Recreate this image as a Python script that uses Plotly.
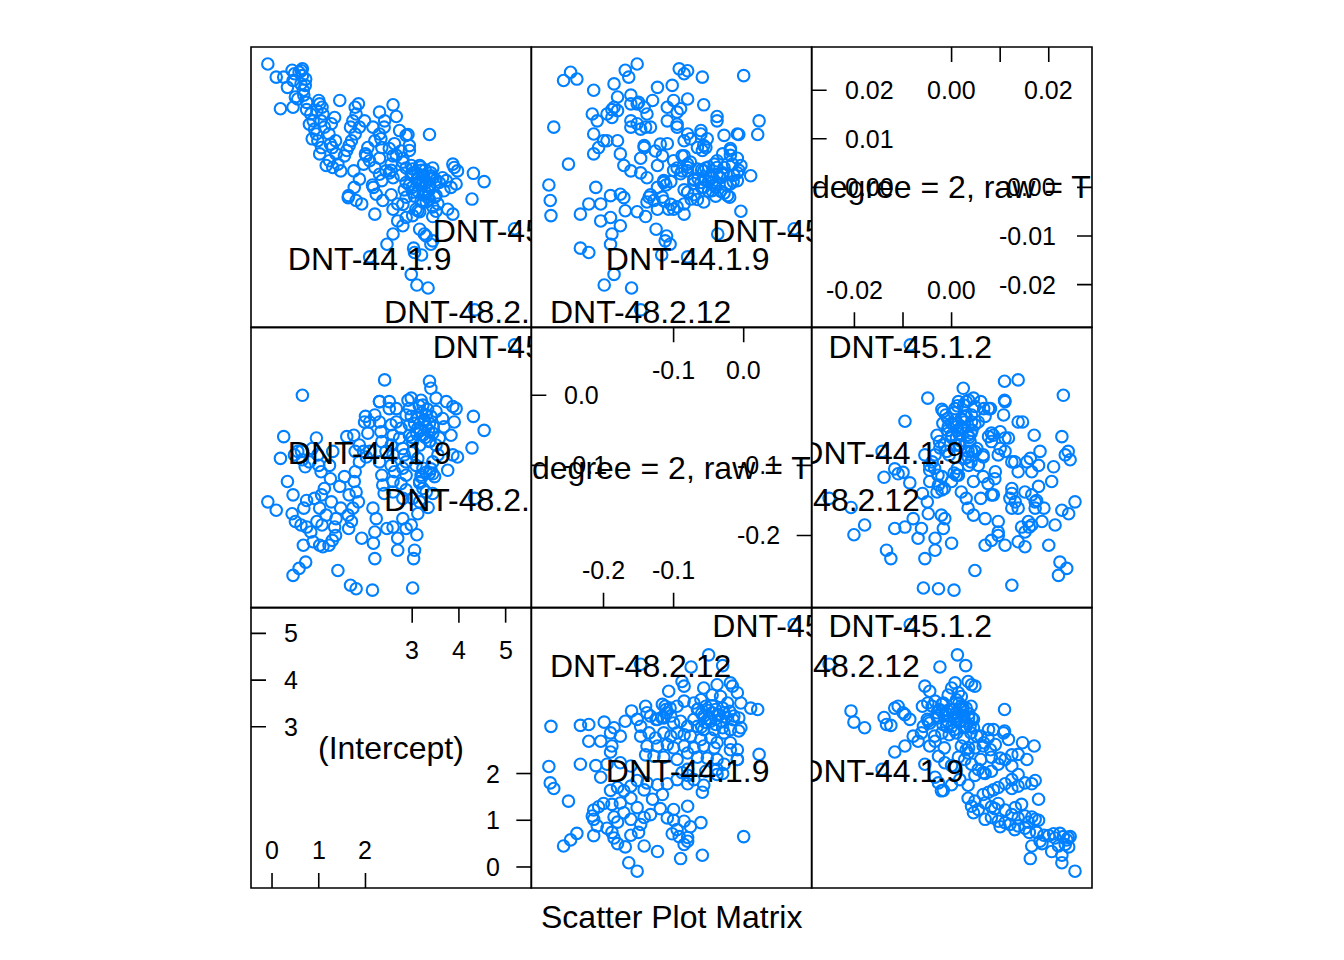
import plotly.graph_objects as go
from plotly.subplots import make_subplots

# per-subject coefficient estimates read off the splom
# (groups: low intercept, 0.75-1.5, 1.5-2.5, left branch, top, dense core, extra core)
intercept = [
    -0.09, 0.09, 0.18, 0.25, 0.33, 0.43, 0.45, 0.45, 0.48, 0.50, 0.58, 0.55, 0.62, 0.65, 0.65, 0.72, 0.67, 0.68, 0.74, 0.71, 0.63,
    1.47, 1.45, 1.41, 1.37, 1.36, 1.34, 1.30, 1.29, 1.27, 1.25, 1.23, 1.22, 1.16, 1.12, 1.09, 1.07, 1.06, 1.05, 1.02, 1.02,
    1.00, 0.98, 0.96, 0.95, 0.91, 0.88, 0.86, 0.83, 0.80, 0.74,
    2.15, 1.80, 1.68, 2.20, 2.17, 1.92, 2.20, 1.64, 2.46, 1.70, 2.23, 1.63, 2.16, 1.73, 1.85, 1.65, 2.40, 1.80, 2.37, 1.76,
    1.55, 2.35, 1.78, 1.87, 2.30, 2.02, 1.78, 1.96, 2.44, 1.87, 2.35, 1.60, 1.75, 2.05, 2.33, 1.98, 2.09, 2.30, 2.00, 2.20,
    2.30, 2.30, 2.41,
    3.34, 3.10, 3.05, 3.03, 2.98, 3.01, 3.40, 3.44, 3.30, 3.20, 3.26, 3.16, 2.80, 2.69, 2.59, 2.87, 2.69, 3.12,
    3.97, 3.94, 3.90, 3.87, 3.87, 3.83, 3.76, 3.73, 3.68, 3.65, 4.54, 4.31, 4.28,
    3.55, 3.58, 3.51, 3.51, 3.40, 3.37, 3.44, 3.30, 3.48, 3.37, 3.44, 3.51, 3.37, 3.44, 3.37, 3.30, 3.23, 3.19, 3.16, 3.23,
    3.12, 3.12, 2.94, 2.91, 2.98, 3.16, 3.01, 3.23, 3.16, 3.19, 3.23, 3.08, 3.12, 3.01, 3.01, 2.94, 2.94, 2.87, 2.80, 2.87,
    2.76, 2.87, 2.80, 2.87, 2.83, 2.80, 2.73, 2.76, 2.66, 2.66, 2.59, 2.59, 2.62, 2.55, 2.59, 2.55, 2.59, 2.55, 2.51, 2.51,
    3.30, 3.25, 3.35, 3.20, 3.40, 3.10, 3.05, 3.28, 3.15, 3.45, 2.98, 3.33, 3.18, 3.00, 3.38,
]
linear = [
    -0.152, -0.164, -0.090, -0.059, -0.123, -0.169, -0.257, -0.142, -0.085, -0.180, -0.247, -0.080, -0.185, 0.000, -0.092,
    -0.238, -0.214, -0.161, -0.150, -0.102, -0.080,
    -0.161, -0.130, -0.250, -0.176, -0.200, -0.188, -0.080, -0.207, -0.152, -0.119, -0.100, -0.214, -0.171, -0.133, -0.216,
    -0.185, -0.142, -0.109, -0.214, -0.161, -0.100, -0.085, -0.180, -0.061, -0.147, -0.209, -0.076, -0.195, -0.095, -0.188,
    -0.278, -0.276, -0.271, -0.233, -0.211, -0.204, -0.195, -0.190, -0.190, -0.180, -0.176, -0.171, -0.161, -0.161, -0.152,
    -0.142, -0.140, -0.138, -0.128, -0.123, -0.116, -0.114, -0.109, -0.095, -0.095, -0.088, -0.080, -0.080, -0.080, -0.071,
    -0.066, -0.059, -0.057, -0.054, -0.052, -0.038, -0.038, -0.038, -0.030, -0.028, -0.009, -0.009, 0.022,
    -0.160, -0.199, -0.221, -0.233, -0.185, -0.275, -0.105, -0.112, -0.110, -0.117, -0.037, -0.125, -0.176, -0.204, -0.188,
    -0.190, -0.221, -0.169,
    -0.088, -0.019, -0.038, -0.085, -0.016, -0.057, -0.107, -0.009, -0.045, -0.033, -0.050, -0.030, -0.075,
    -0.085, -0.061, -0.023, -0.004, 0.010, 0.020, -0.140, -0.138, -0.116, -0.111, -0.095, -0.071, -0.066, -0.054, -0.040,
    -0.028, -0.014, -0.007, -0.071, -0.057, -0.047, -0.033, -0.019, -0.007, -0.004, -0.152, -0.147, -0.133, -0.123, -0.114,
    -0.104, -0.100, -0.090, -0.080, -0.066, -0.057, -0.042, -0.028, -0.147, -0.135, -0.126, -0.114, -0.104, -0.095, -0.085,
    -0.076, -0.061, -0.047, -0.038, -0.019, -0.138, -0.123, -0.109, -0.100, -0.085, -0.071, -0.057, -0.042, -0.019, -0.009,
    -0.045, -0.035, -0.050, -0.025, -0.030, -0.055, -0.040, -0.060, -0.015, -0.045, -0.030, -0.020, -0.050, -0.060, -0.065,
]
quadratic = [
    0.0254, 0.0227, 0.0162, 0.0227, 0.0206, 0.0241, 0.0220, 0.0165, 0.0234, 0.0186, 0.0237, 0.0182, 0.0213, 0.0230, 0.0244,
    0.0223, 0.0200, 0.0190, 0.0175, 0.0210, 0.0240,
    0.0034, 0.0179, 0.0048, 0.0069, 0.0096, 0.0144, 0.0041, 0.0082, 0.0131, 0.0089, 0.0055, 0.0110, 0.0045, 0.0124, 0.0151,
    0.0165, 0.0082, 0.0137, 0.0069, 0.0172, 0.0179, 0.0096, 0.0158, 0.0110, 0.0120, 0.0137, 0.0100, 0.0151, 0.0130, 0.0160,
    0.0005, -0.0027, 0.0124, -0.0055, 0.0000, -0.0034, 0.0096, -0.0017, -0.0117, 0.0096, -0.0014, -0.0021, 0.0124, 0.0137,
    0.0172, 0.0086, 0.0124, 0.0151, -0.0027, 0.0000, 0.0065, 0.0014, 0.0165, 0.0124, 0.0155, 0.0065, 0.0110, 0.0048, 0.0034,
    0.0017, 0.0082, 0.0076, 0.0034, 0.0082, 0.0100, 0.0137, 0.0055, 0.0027, 0.0069, 0.0041, 0.0110, 0.0060, 0.0137,
    -0.0207, -0.0201, -0.0134, -0.0125, -0.0179, -0.0058, -0.0117, -0.0110, -0.0100, -0.0139, -0.0096, -0.0086, -0.0079,
    -0.0069, -0.0096, -0.0062, -0.0034, -0.0048,
    0.0034, 0.0007, 0.0041, -0.0055, 0.0048, 0.0000, -0.0045, 0.0014, -0.0007, 0.0020, 0.0012, 0.0029, -0.0024,
    -0.0034, 0.0010, -0.0017, -0.0049, 0.0024, 0.0109, -0.0060, -0.0030, -0.0020, 0.0005, -0.0040, 0.0015, -0.0025, 0.0040,
    0.0000, -0.0012, 0.0025, 0.0035, 0.0008, -0.0030, 0.0020, -0.0008, 0.0076, 0.0109, 0.0045, -0.0050, 0.0030, -0.0015,
    0.0045, -0.0028, 0.0012, -0.0045, 0.0028, -0.0010, 0.0038, 0.0086, 0.0005, 0.0107, 0.0060, -0.0020, 0.0075, 0.0010,
    -0.0035, 0.0040, -0.0005, 0.0052, 0.0117, 0.0025, 0.0146, 0.0066, 0.0020, -0.0045, 0.0090, 0.0035, 0.0065, -0.0015,
    0.0170, 0.0048, 0.0080, 0.0030,
    0.0010, 0.0022, -0.0008, 0.0005, 0.0030, 0.0015, -0.0018, 0.0036, 0.0012, 0.0020, 0.0026, -0.0020, 0.0042, 0.0000, 0.0018,
]

# the three labelled subjects
label_names = ["DNT-44.1.9", "DNT-45.1.2", "DNT-48.2.12"]
label_intercept = [2.09, 5.19, 4.34]
label_linear = [-0.080, 0.072, -0.147]
label_quadratic = [-0.0143, -0.0085, -0.0252]

var_names = ["(Intercept)", "degree = 2, raw = T", "degree = 2, raw = T"]
var_ranges = [[-0.45, 5.55], [-0.303, 0.097], [-0.0288, 0.0289]]

# diagonal axis ticks, split over the four sides like lattice does (value list, label list)
diag_ticks = [
    {"left": ([3, 4, 5], ["3", "4", "5"]), "right": ([0, 1, 2], ["0", "1", "2"]),
     "bottom": ([0, 1, 2], ["0", "1", "2"]), "top": ([3, 4, 5], ["3", "4", "5"])},
    {"left": ([0.0, -0.1], ["0.0", "-0.1"]), "right": ([-0.1, -0.2], ["-0.1", "-0.2"]),
     "bottom": ([-0.2, -0.1], ["-0.2", "-0.1"]), "top": ([-0.1, 0.0], ["-0.1", "0.0"])},
    {"left": ([0.02, 0.01, 0.0], ["0.02", "0.01", "0.00"]), "right": ([0.0, -0.01, -0.02], ["0.00", "-0.01", "-0.02"]),
     "bottom": ([-0.02, -0.01, 0.0], ["-0.02", "", "0.00"]), "top": ([0.0, 0.01, 0.02], ["0.00", "", "0.02"])},
]
right_pos = [0.8955, 0.893, 0.88]

FONT = "Liberation Sans, Arial, Helvetica, sans-serif"
BLUE = "#0080ff"
TICK = 0.0535
PANEL_PX = 280.3
LABEL_DROP_PX = 5  # R centres the label glyphs a little lower than plotly does
EDGE = dict(color="black", width=1.6)

cols = [intercept, linear, quadratic]
lab_cols = [label_intercept, label_linear, label_quadratic]

fig = make_subplots(rows=3, cols=3, horizontal_spacing=0, vertical_spacing=0)


def axis_names(r, c):
    k = (r - 1) * 3 + c
    return ("x", "y") if k == 1 else (f"x{k}", f"y{k}")


for r in range(1, 4):
    for c in range(1, 4):
        xv, yv = c - 1, 3 - r
        xa, ya = axis_names(r, c)
        fig.update_xaxes(range=var_ranges[xv], row=r, col=c)
        fig.update_yaxes(range=var_ranges[yv], row=r, col=c)
        # panel frame
        fig.add_shape(type="rect", xref=f"{xa} domain", yref=f"{ya} domain", x0=0, x1=1, y0=0, y1=1, line=EDGE)
        if xv == yv:
            continue
        fig.add_trace(go.Scatter(x=cols[xv] + lab_cols[xv], y=cols[yv] + lab_cols[yv], mode="markers",
                                 marker=dict(symbol="circle-open", size=11.5, color=BLUE, line=dict(width=2.1)),
                                 showlegend=False, hoverinfo="skip"), row=r, col=c)
        drop = LABEL_DROP_PX * (var_ranges[yv][1] - var_ranges[yv][0]) / PANEL_PX
        fig.add_trace(go.Scatter(x=lab_cols[xv], y=[val - drop for val in lab_cols[yv]], mode="text",
                                 text=label_names, textposition="middle center",
                                 textfont=dict(size=32, color="black", family=FONT),
                                 cliponaxis=True, showlegend=False, hoverinfo="skip"), row=r, col=c)

# diagonal panels: variable name plus inside ticks
for v in range(3):
    xa, ya = axis_names(3 - v, v + 1)
    fig.add_annotation(text=var_names[v], x=0.5, y=0.5, xref=f"{xa} domain", yref=f"{ya} domain",
                       xanchor="center", yanchor="middle", showarrow=False, font=dict(size=32))
    t = diag_ticks[v]
    for val, txt in zip(*t["left"]):
        fig.add_shape(type="line", xref=f"{xa} domain", yref=ya, x0=0, x1=TICK, y0=val, y1=val, line=EDGE)
        fig.add_annotation(text=txt, xref=f"{xa} domain", yref=ya, x=0.11, y=val, xanchor="left",
                           yanchor="middle", showarrow=False, font=dict(size=25))
    for val, txt in zip(*t["right"]):
        fig.add_shape(type="line", xref=f"{xa} domain", yref=ya, x0=1 - TICK, x1=1, y0=val, y1=val, line=EDGE)
        fig.add_annotation(text=txt, xref=f"{xa} domain", yref=ya, x=right_pos[v], y=val, xanchor="right",
                           yanchor="middle", showarrow=False, font=dict(size=25))
    for val, txt in zip(*t["bottom"]):
        fig.add_shape(type="line", xref=xa, yref=f"{ya} domain", x0=val, x1=val, y0=0, y1=TICK, line=EDGE)
        if txt:
            fig.add_annotation(text=txt, xref=xa, yref=f"{ya} domain", x=val, y=0.134, xanchor="center",
                               yanchor="middle", showarrow=False, font=dict(size=25))
    for val, txt in zip(*t["top"]):
        fig.add_shape(type="line", xref=xa, yref=f"{ya} domain", x0=val, x1=val, y0=1 - TICK, y1=1, line=EDGE)
        if txt:
            fig.add_annotation(text=txt, xref=xa, yref=f"{ya} domain", x=val, y=0.848, xanchor="center",
                               yanchor="middle", showarrow=False, font=dict(size=25))

axis_style = dict(showgrid=False, zeroline=False, showticklabels=False, ticks="", showline=False)
fig.update_xaxes(**axis_style)
fig.update_yaxes(**axis_style)

fig.add_annotation(text="Scatter Plot Matrix", x=0.5, y=-0.0345, xref="paper", yref="paper",
                   xanchor="center", yanchor="middle", showarrow=False, font=dict(size=32))

# the page body adds 8px, so the margins are pulled in by that much
fig.update_layout(width=1344, height=960, margin=dict(l=243, r=260, t=39, b=80),
                  paper_bgcolor="white", plot_bgcolor="white",
                  font=dict(family=FONT, color="black"))

fig.write_html("out.html")
